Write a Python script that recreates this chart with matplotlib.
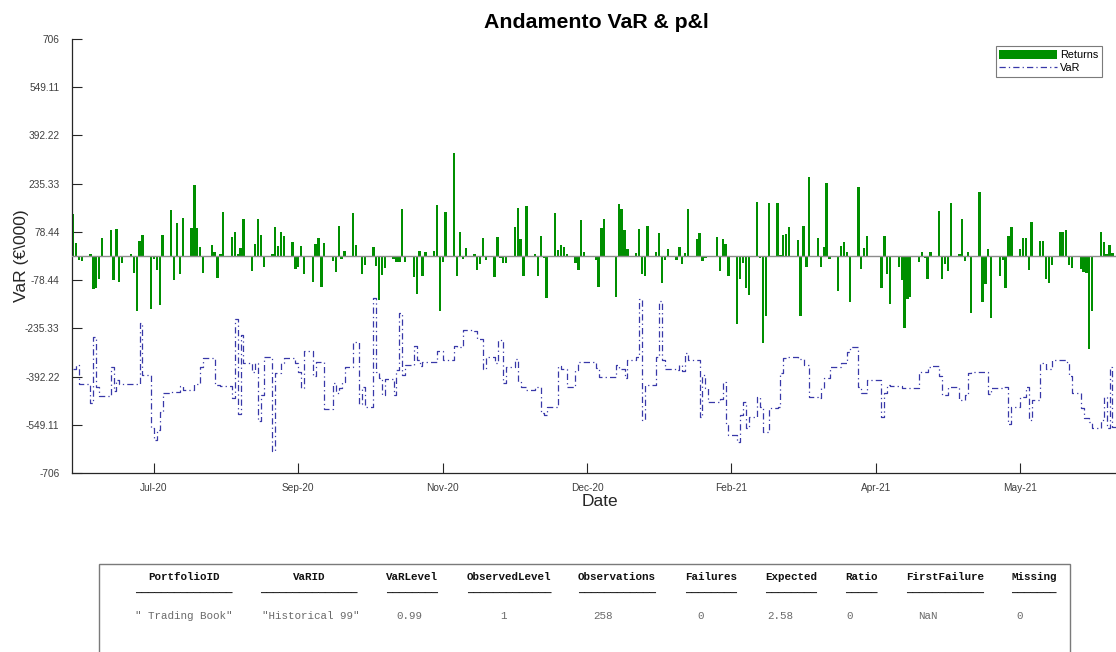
import matplotlib
matplotlib.use("Agg")
import matplotlib.pyplot as plt
import matplotlib.dates as mdates
from matplotlib.patches import Rectangle
import pandas as pd
import numpy as np

# ---------------- data ----------------
holidays = ["2020-12-25", "2021-01-01", "2021-04-02", "2021-04-05"]
dates = pd.bdate_range("2020-06-30", "2021-06-30", freq="C", holidays=holidays)

returns = [
    137, 41, -13, -16,
    5, -108, -105, -76, 60,
    85, -78, 88, -83, -22,
    5, -56, -179, 49, 68,
    -172, -11, -46, -159, 68,
    150, -78, 108, -60, 125,
    92, 231, 92, 30, -54,
    36, 14, -73, 5, 142,
    63, 79, 8, 27, 122,
    -48, 38, 122, 68, -37,
    5, 93, 33, 77, 66,
    47, -42, -37, 33, -59,
    -83, 38, 60, -100, 43,
    -15, -51, 98, -11, 17,
    139, 36, -2, -60, -29,
    30, -33, -143, -62, -40,
    -11, -18, -18, 153, -18,
    -67, -124, 17, -64, 12,
    17, 166, -179, -18, 144,
    336, -64, 79, -11, 25,
    7, -46, -26, 60, -13,
    -67, 63, -8, -24, -24,
    95, 155, 54, -64, 164,
    7, -64, 65, -5, -138,
    139, 20, 36, 30, 7,
    -24, -46, 118, 14,
    -13, -102, 92, 122,
    -132, 169, 152, 85, 23,
    9, 87, -59, -65, 99,
    14, 74, -89, -13, 23,
    -13, 28, -26, 11, 153,
    54, 76, -16, -8, -4,
    63, -49, 54, 39, -65,
    -221, -76, -22, -105, -127,
    177, -8, -282, -194, 173,
    171, 3, 68, 72, 93,
    52, -194, 98, -37, 258,
    60, -37, 28, 238, -11,
    -114, 34, 47, 12, -151,
    223, -43, 26, 65,
    -103, 65, -59, -156,
    -35, -78, -235, -139, -135,
    -21, 14, -5, -75, 12,
    146, -75, -26, -48, 171,
    5, 119, -16, 14, -184,
    207, -149, -92, 23, -203,
    -64, -13, -103, 65, 93,
    23, 60, 57, -46, 110,
    49, 49, -75, -89, -29,
    79, 77, 85, -29, -40,
    -43, -51, -56, -302, -179,
    79, 47, 5, 36, 10,
    20, -15, 10,
]

var_values = [
    -369, -354, -416, -416,
    -477, -265, -425, -455, -455,
    -362, -438, -403, -416, -416,
    -416, -416, -416, -219, -387,
    -558, -600, -566, -506, -447,
    -441, -441, -441, -423, -436,
    -436, -416, -416, -362, -333,
    -333, -420, -420, -423, -423,
    -463, -205, -514, -257, -349,
    -379, -349, -537, -452, -327,
    -636, -382, -382, -349, -333,
    -333, -349, -376, -430, -309,
    -392, -346, -346, -346, -499,
    -414, -447, -430, -409, -362,
    -279, -279, -481, -427, -490,
    -138, -378, -398, -452, -401,
    -452, -371, -186, -387, -354,
    -293, -338, -358, -344, -344,
    -344, -308, -308, -338, -338,
    -293, -295, -295, -241, -241,
    -243, -271, -271, -369, -327,
    -349, -273, -273, -412, -362,
    -336, -409, -425, -425, -436,
    -427, -427, -512, -517, -492,
    -492, -358, -369, -369, -425,
    -371, -346, -346, -346,
    -365, -395, -395, -395,
    -354, -369, -369, -398, -338,
    -327, -141, -533, -420, -420,
    -327, -148, -338, -369, -369,
    -371, -354, -373, -314, -338,
    -338, -525, -387, -430, -474,
    -474, -466, -409, -550, -582,
    -604, -517, -474, -560, -525,
    -458, -490, -571, -571, -495,
    -492, -382, -333, -327, -327,
    -336, -336, -354, -354, -460,
    -463, -428, -398, -398, -362,
    -362, -349, -349, -311, -295,
    -427, -447, -447, -405,
    -523, -447, -420, -423,
    -423, -430, -430, -430, -430,
    -376, -376, -376, -360, -358,
    -392, -452, -452, -425, -425,
    -468, -468, -452, -382, -379,
    -379, -379, -379, -450, -430,
    -430, -425, -425, -546, -490,
    -458, -458, -425, -533, -468,
    -349, -349, -369, -369, -338,
    -338, -338, -344, -392, -447,
    -493, -528, -528, -539, -560,
    -533, -458, -560, -362, -555,
    -555, -555, -555,
]

xtick_dates = ["2020-07-28", "2020-09-16", "2020-11-05", "2020-12-25",
               "2021-02-13", "2021-04-04", "2021-05-24"]
ytick_values = [-706, -549.11, -392.22, -235.33, -78.44, 78.44, 235.33, 392.22, 549.11, 706]
ytick_labels = ["-706", "-549.11", "-392.22", "-235.33", "-78.44",
                "78.44", "235.33", "392.22", "549.11", "706"]

title = "Andamento VaR & p&l"
xlabel = "Date"
ylabel = "VaR (€\\000)"
legend_labels = ["Returns", "VaR"]

table_headers = ["PortfolioID", "VaRID", "VaRLevel", "ObservedLevel", "Observations",
                 "Failures", "Expected", "Ratio", "FirstFailure", "Missing"]
table_values = ['" Trading Book"', '"Historical 99"', "0.99", "1", "258",
                "0", "2.58", "0", "NaN", "0"]
underline_len = [15, 15, 8, 13, 12, 8, 8, 5, 12, 7]

# ---------------- style ----------------
W, H = 1116, 652
plt.rcParams["font.family"] = ["Liberation Sans", "DejaVu Sans"]
fig = plt.figure(figsize=(W / 100, H / 100), dpi=100)

def fx(px):
    return px / W

def fy(py):
    return 1 - py / H

GREEN = "#008f00"
VARC = "#3838a8"
AXC = "#262626"

ax_left, ax_right = 72, 1128
ax_top, ax_bot = 39, 473
ax_w = ax_right - ax_left
ax = fig.add_axes([fx(ax_left), fy(ax_bot), ax_w / W, (ax_bot - ax_top) / H])

xd = mdates.date2num(dates.to_pydatetime())
bars = ax.bar(xd, returns, width=0.8, color=GREEN, edgecolor="none", zorder=2)
ax.axhline(0, color="#8c8c8c", lw=1.0, zorder=3)
line, = ax.step(xd, var_values, where="post", color=VARC, lw=0.9,
                linestyle=(0, (5, 2.5, 1, 2.5)), zorder=4)

ax.set_xlim(xd[0] - 0.4, xd[-1] + 0.4)
ax.set_ylim(-706, 706)

ax.set_xticks(mdates.date2num(pd.to_datetime(xtick_dates).to_pydatetime()))
ax.xaxis.set_major_formatter(mdates.DateFormatter("%b-%y"))
ax.set_yticks(ytick_values)
ax.set_yticklabels(ytick_labels)

for s in ["top", "right"]:
    ax.spines[s].set_visible(False)
for s in ["left", "bottom"]:
    ax.spines[s].set_color(AXC)
    ax.spines[s].set_linewidth(0.9)

ax.tick_params(axis="both", direction="in", length=7.5, width=0.8, color=AXC,
               labelsize=7.3, labelcolor="#404040")
ax.tick_params(axis="y", pad=9)
ax.tick_params(axis="x", pad=7)

ax.set_xlabel(xlabel, fontsize=12.5, color=AXC, labelpad=1)
ax.set_ylabel(ylabel, fontsize=12.5, color=AXC)
ax.yaxis.set_label_coords((29 - ax_left) / ax_w, 0.5)
fig.text(fx(596), fy(23), title, fontsize=15.3, fontweight="bold", ha="center", va="center")

leg = ax.legend([bars, line], legend_labels, loc="upper right",
                bbox_to_anchor=(fx(1102), fy(46)),
                bbox_transform=fig.transFigure, borderaxespad=0,
                fontsize=7.8, frameon=True, fancybox=False, handlelength=5.3,
                handleheight=0.9, labelspacing=0.25, borderpad=0.35, handletextpad=0.3)
leg.get_frame().set_edgecolor("#5a5a5a")
leg.get_frame().set_linewidth(0.8)

# ---------------- table ----------------
fig.patches.append(Rectangle((fx(99), fy(700)), fx(1070) - fx(99), fy(564) - fy(700),
                             transform=fig.transFigure, fill=False,
                             edgecolor="#7a7a7a", lw=1.0))
col_centers = [184, 309, 412, 509, 617, 711, 791, 861, 945, 1034]
val_left = [135, 262, 396, 500, 593, 697, 767, 846, 918, 1016]
mono = ["Liberation Mono", "DejaVu Sans Mono"]
for h, c, n, v, vl in zip(table_headers, col_centers, underline_len, table_values, val_left):
    fig.text(fx(c), fy(577), h, family=mono, fontweight="bold", fontsize=7.8,
             ha="center", va="center", color="#111111")
    fig.text(fx(c), fy(593), "_" * n, family=mono, fontweight="bold", fontsize=7.8,
             ha="center", va="baseline", color="#222222")
    fig.text(fx(vl), fy(616), v, family=mono, fontsize=7.8,
             ha="left", va="center", color="#6a6a6a")

fig.savefig("out.png", dpi=100)
